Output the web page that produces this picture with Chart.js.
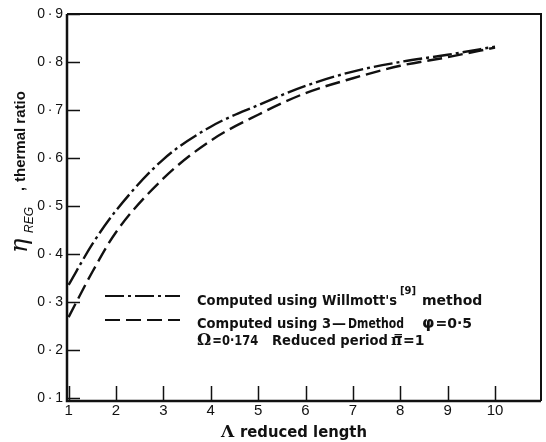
<!DOCTYPE html>
<html>
<head>
<meta charset="utf-8">
<script src="https://cdn.jsdelivr.net/npm/chart.js@4.4.0/dist/chart.umd.min.js"></script>
<style>
  html, body { margin: 0; padding: 0; background: #fff; }
  #wrap { width: 546px; height: 442px; }
</style>
</head>
<body>
<div id="wrap"><canvas id="chart"></canvas></div>
<script>
// reduced length (Lambda) and thermal ratio
const reducedLength = [1, 1.5, 2, 3, 4, 5, 6, 7, 8, 9, 10]
const willmott = [0.335, 0.42, 0.49, 0.597, 0.665, 0.71, 0.75, 0.78, 0.80, 0.815, 0.832]
const threeD = [0.268, 0.362, 0.445, 0.557, 0.636, 0.69, 0.735, 0.766, 0.792, 0.81, 0.83]

const xTicks = [1, 2, 3, 4, 5, 6, 7, 8, 9, 10]
const yTicks = [0.1, 0.2, 0.3, 0.4, 0.5, 0.6, 0.7, 0.8, 0.9]

const ink = "#111"
const dashDot = [19, 4, 3, 4]
const dashed = [15, 6]

const toPoints = (ys) => reducedLength.map((x, i) => ({ x, y: ys[i] }))

function text(ctx, str, x, y, font, maxWidth) {
  ctx.font = font
  if (maxWidth) ctx.fillText(str, x, y, maxWidth)
  else ctx.fillText(str, x, y)
  const w = ctx.measureText(str).width
  return maxWidth ? Math.min(w, maxWidth) : w
}

// frame, inward ticks, axis titles and the in-plot key
const paperPlugin = {
  id: "paper",
  afterDraw(chart) {
    const { ctx, chartArea: a, scales: { x, y } } = chart
    ctx.save()
    ctx.strokeStyle = ink
    ctx.fillStyle = ink

    ctx.lineWidth = 2.5
    ctx.beginPath()
    ctx.moveTo(a.left, a.top)
    ctx.lineTo(a.left, a.bottom)
    ctx.lineTo(a.right, a.bottom)
    ctx.stroke()
    ctx.lineWidth = 2
    ctx.beginPath()
    ctx.moveTo(a.left, a.top)
    ctx.lineTo(a.right, a.top)
    ctx.lineTo(a.right, a.bottom)
    ctx.stroke()

    ctx.lineWidth = 1.5
    ctx.beginPath()
    xTicks.forEach((v) => {
      const px = Math.round(x.getPixelForValue(v)) + 0.5
      ctx.moveTo(px, a.bottom)
      ctx.lineTo(px, a.bottom - 15)
    })
    yTicks.forEach((v) => {
      const py = Math.round(y.getPixelForValue(v)) + 0.5
      ctx.moveTo(a.left, py)
      ctx.lineTo(a.left + 13, py)
    })
    ctx.stroke()

    // x title
    ctx.textBaseline = "alphabetic"
    ctx.textAlign = "left"
    text(ctx, "Λ", 221, 437, "bold 17px 'DejaVu Serif'")
    text(ctx, "reduced length", 240, 437, "bold 15px 'DejaVu Sans'", 127)

    // y title, rotated
    ctx.save()
    ctx.translate(27, 253)
    ctx.rotate(-Math.PI / 2)
    text(ctx, "η", 0, 0, "italic 24px 'DejaVu Serif'")
    text(ctx, "REG", 20, 6, "italic 12px 'Liberation Sans'", 34)
    text(ctx, ",", 62, -3, "bold 14px 'Liberation Sans'")
    text(ctx, "thermal ratio", 71, -2, "bold 15px 'Liberation Sans'")
    ctx.restore()

    // key
    const sets = chart.data.datasets
    ctx.lineWidth = 2.2
    ;[[sets[0].borderDash, 296], [sets[1].borderDash, 320]].forEach(([d, ly]) => {
      ctx.setLineDash(d)
      ctx.beginPath()
      ctx.moveTo(105, ly)
      ctx.lineTo(180, ly)
      ctx.stroke()
    })
    ctx.setLineDash([])

    const body = "bold 14px 'DejaVu Sans'"
    text(ctx, "Computed using Willmott's", 197, 305, body, 200)
    text(ctx, "[9]", 400, 294, "bold 10px 'DejaVu Sans'")
    text(ctx, "method", 422, 305, body)

    text(ctx, "Computed using 3", 197, 328, body, 134)
    text(ctx, "—", 332, 328, body, 15)
    text(ctx, "Dmethod", 348, 328, body, 56)
    let px = 422
    px += text(ctx, "φ", px, 328, "bold 16px 'DejaVu Sans'")
    text(ctx, "=0·5", px + 1, 328, body)

    px = 197
    px += text(ctx, "Ω", px, 345, "bold 16px 'DejaVu Serif'")
    text(ctx, "=0·174", px + 1, 345, body, 46)
    text(ctx, "Reduced period", 272, 345, body, 116)
    px = 391
    px += text(ctx, "π\u033F", px, 345, "bold 15px 'DejaVu Serif'")
    text(ctx, "=1", px + 1, 345, body)

    ctx.restore()
  }
}

new Chart(document.getElementById("chart"), {
  type: "line",
  data: {
    datasets: [
      {
        label: "Computed using Willmott's [9] method",
        data: toPoints(willmott),
        borderColor: ink,
        borderWidth: 2.4,
        borderDash: dashDot,
        pointRadius: 0,
        cubicInterpolationMode: "monotone",
        fill: false
      },
      {
        label: "Computed using 3-D method",
        data: toPoints(threeD),
        borderColor: ink,
        borderWidth: 2.4,
        borderDash: dashed,
        pointRadius: 0,
        cubicInterpolationMode: "monotone",
        fill: false
      }
    ]
  },
  options: {
    responsive: true,
    maintainAspectRatio: false,
    animation: false,
    layout: { padding: { top: 14, right: 5, left: 0, bottom: 0 } },
    plugins: {
      legend: { display: false },
      tooltip: { enabled: false }
    },
    scales: {
      x: {
        type: "linear",
        min: 0.966,
        max: 10.97,
        grid: { display: false, drawTicks: false },
        border: { display: false },
        afterBuildTicks: (s) => { s.ticks = xTicks.map((value) => ({ value })) },
        afterFit: (s) => { s.height = 41 },
        ticks: {
          padding: 1,
          color: ink,
          maxRotation: 0,
          autoSkip: false,
          font: { family: "Liberation Sans", size: 15 },
          callback: (v) => String(v)
        }
      },
      y: {
        type: "linear",
        min: 0.093,
        max: 0.9,
        grid: { display: false, drawTicks: false },
        border: { display: false },
        afterBuildTicks: (s) => { s.ticks = yTicks.map((value) => ({ value })) },
        afterFit: (s) => { s.width = 67 },
        ticks: {
          padding: 4,
          color: ink,
          autoSkip: false,
          font: { family: "Liberation Sans", size: 14 },
          callback: (v) => v.toFixed(1).replace(".", "\u2009·\u2009")
        }
      }
    }
  },
  plugins: [paperPlugin]
})
</script>
</body>
</html>
